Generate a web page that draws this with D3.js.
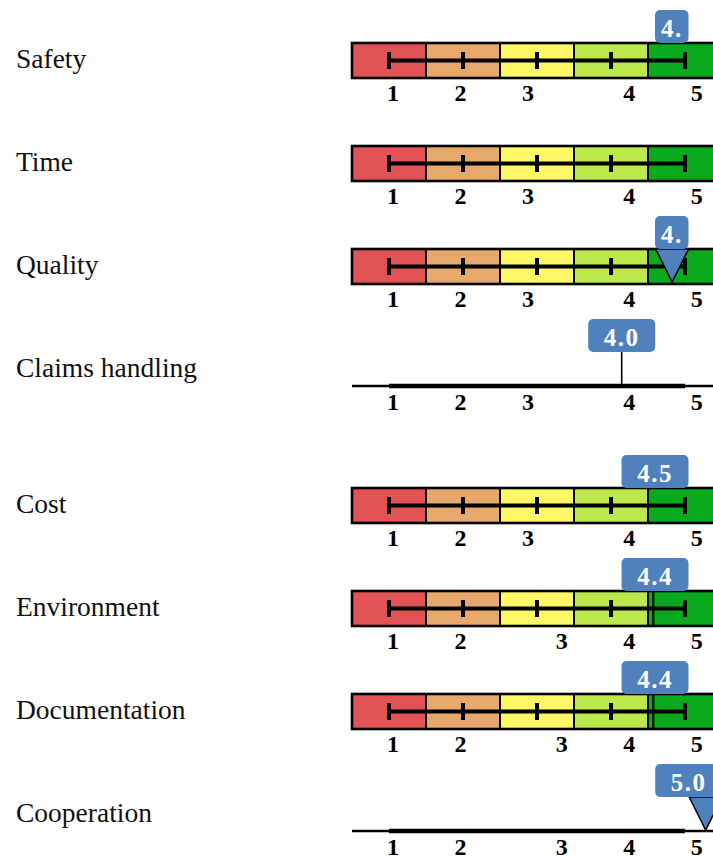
<!DOCTYPE html>
<html>
<head>
<meta charset="utf-8">
<script src="https://cdn.jsdelivr.net/npm/d3@7/dist/d3.min.js"></script>
<style>
  html, body { margin: 0; padding: 0; background: #fff; overflow: hidden; }
  svg { display: block; }
</style>
</head>
<body>
<script>
// ---- data ----
const categories = ["Safety", "Time", "Quality", "Claims handling", "Cost", "Environment", "Documentation", "Cooperation"];
const scores = [4.6, null, 4.6, 4.0, 4.5, 4.4, 4.4, 5.0];
const scoreLabels = ["4.", "", "4.", "4.0", "4.5", "4.4", "4.4", "5.0"];
const rowKinds = ["bands", "bands", "bands", "axis", "bands", "bands", "bands", "axis"];
const markerTypes = ["none", "none", "triangle", "stem", "none", "line", "line", "triangle"];
const scaleLevels = [1, 2, 3, 4, 5];
const tickLabels = ["1", "2", "3", "4", "5"];
const tickGapIndex = [3, 3, 3, 3, 3, 2, 2, 2];
const bandColors = ["#E05253", "#E6A96B", "#FEF866", "#BDE84B", "#0AAA1F"];

// ---- layout ----
const W = 713, H = 859;
const barH = 35;
const rowStep = 103;
const firstTop = 43;
const extraGapAfter = 3; // extra spacing after the "Claims handling" row
const boxH = 33;
const blue = "#4F81BD";

const svg = d3.select("body").append("svg").attr("width", W).attr("height", H);

const band = d3.scaleBand().domain(scaleLevels).range([352, 722]).paddingInner(0).paddingOuter(0);
const bw = band.bandwidth();
const xVal = d3.scaleLinear().domain([1, 5]).range([369.7, 705.7]);
const slotX = d3.scaleLinear().domain([0, 1]).range([393, 460.5]);
const rowTop = i => firstTop + i * rowStep + (i > extraGapAfter ? 33 : 0);

categories.forEach((cat, i) => {
  const top = rowTop(i);
  const mid = top + barH / 2;
  const bot = top + barH;
  const g = svg.append("g");

  // category label
  g.append("text")
    .attr("x", 16).attr("y", mid).attr("dy", "0.28em")
    .attr("font-family", "'Liberation Serif', serif")
    .attr("font-size", 27.5).attr("fill", "#111")
    .text(cat);

  if (rowKinds[i] === "bands") {
    g.selectAll("rect.band").data(scaleLevels).enter().append("rect")
      .attr("x", d => band(d)).attr("y", top)
      .attr("width", bw).attr("height", barH)
      .attr("fill", (d, k) => bandColors[k])
      .attr("stroke", "#000").attr("stroke-width", 2);
    g.append("rect")
      .attr("x", band(1)).attr("y", top).attr("width", bw * 5).attr("height", barH)
      .attr("fill", "none").attr("stroke", "#000").attr("stroke-width", 2.6);
    // whisker
    const c1 = band(1) + bw / 2, c5 = band(5) + bw / 2;
    g.append("line").attr("x1", c1).attr("x2", c5).attr("y1", mid).attr("y2", mid)
      .attr("stroke", "#000").attr("stroke-width", 4);
    g.selectAll("rect.tick").data(scaleLevels).enter().append("rect")
      .attr("x", d => band(d) + bw / 2 - 2).attr("y", mid - 8.5)
      .attr("width", 4).attr("height", 17).attr("fill", "#000");
  } else {
    g.append("line").attr("x1", band(1)).attr("x2", band(5) + bw).attr("y1", bot - 1).attr("y2", bot - 1)
      .attr("stroke", "#000").attr("stroke-width", 2.5);
    g.append("line").attr("x1", band(1) + bw / 2).attr("x2", band(5) + bw / 2).attr("y1", bot - 1).attr("y2", bot - 1)
      .attr("stroke", "#000").attr("stroke-width", 4.5);
  }

  // tick labels
  g.selectAll("text.tl").data(tickLabels).enter().append("text")
    .attr("x", (d, k) => slotX(k + (k >= tickGapIndex[i] ? 0.5 : 0)))
    .attr("y", bot + 23)
    .attr("text-anchor", "middle")
    .attr("font-family", "'Liberation Serif', serif")
    .attr("font-weight", "bold").attr("font-size", 24).attr("fill", "#000")
    .text(d => d);

  // score marker + callout
  const v = scores[i];
  if (v == null) return;
  const vx = xVal(v);
  const label = scoreLabels[i];
  const bwid = (label.length - 1) * 33.5;
  const rightLimit = v >= 5 ? vx + 16.5 : 688.5;
  const bx = Math.min(vx - bwid / 2, rightLimit - bwid);
  const by = top - boxH;

  if (markerTypes[i] === "triangle") {
    const half = 16.5;
    g.append("path")
      .attr("d", `M${vx - half},${top} L${vx + half},${top} L${vx},${bot - 2} Z`)
      .attr("fill", blue).attr("stroke", "#000").attr("stroke-width", 1.5).attr("stroke-linejoin", "miter");
  } else if (markerTypes[i] === "stem") {
    g.append("line").attr("x1", vx).attr("x2", vx).attr("y1", top).attr("y2", bot - 1)
      .attr("stroke", "#000").attr("stroke-width", 1.6);
  } else if (markerTypes[i] === "line") {
    g.append("line").attr("x1", vx - 2).attr("x2", vx - 2).attr("y1", top).attr("y2", bot)
      .attr("stroke", "#000").attr("stroke-width", 2.2);
  }

  g.append("rect")
    .attr("x", bx).attr("y", by).attr("width", bwid).attr("height", boxH)
    .attr("rx", 5).attr("ry", 5).attr("fill", blue);
  g.append("text")
    .attr("x", bx + bwid / 2).attr("y", by + boxH - 6)
    .attr("text-anchor", "middle")
    .attr("font-family", "'Liberation Serif', serif")
    .attr("font-weight", "bold").attr("font-size", 25).attr("letter-spacing", 1.5)
    .attr("fill", "#fff")
    .text(label);
});
</script>
</body>
</html>
